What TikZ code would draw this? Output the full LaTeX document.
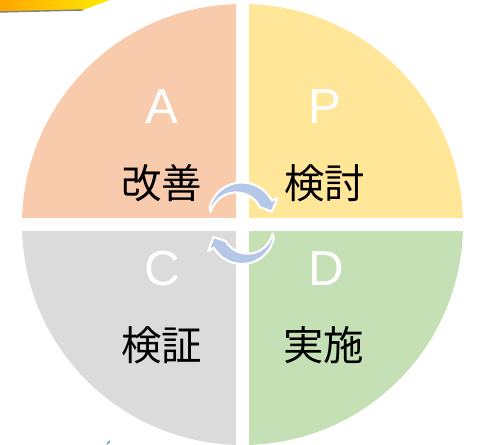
\documentclass[tikz,border=0pt]{standalone}
\usepackage{fontspec}
\setmainfont{Liberation Sans}
\newfontfamily\jpfont{Noto Sans CJK JP}
\usepackage{xcolor}
\usepackage{tikz}
\usetikzlibrary{calc}

\definecolor{actcol}{HTML}{F8CBAD}
\definecolor{plancol}{HTML}{FFE699}
\definecolor{checkcol}{HTML}{DBDBDB}
\definecolor{docol}{HTML}{C5E0B4}
\definecolor{cyclecol}{HTML}{B4C7E7}
\definecolor{tickcol}{HTML}{5B9BD5}

\begin{document}
\begin{tikzpicture}[x=0.02cm,y=0.02cm,
		letter/.style={inner sep=0pt,text=white,font=\fontsize{28}{30}\selectfont},
		word/.style={inner sep=0pt,text=black,font=\jpfont\fontsize{23}{25}\selectfont},
		cyclearrow/.style={fill=cyclecol,draw=white,line width=1.2pt,line join=round}]
		\useasboundingbox (-242.5,-220.5) rectangle (234.5,224.5);
		%
		% pencil tip in the corner
		\shade[left color=orange!70!yellow,right color=yellow!85!orange]
		(-242.5,224.5) -- (-132.5,224.5) -- (-159.5,214.5) -- (-242.5,212.5) -- cycle;
		\draw[gray,line width=0.8pt] (-242.5,212.5) -- (-159.5,214.5);
		%
		% four quarters
		\begin{scope}
		\clip (0,0) circle (220.5);
		\fill[actcol] (-230,6.5) rectangle (-6,230);
		\fill[plancol] (6.5,6.5) rectangle (230,230);
		\fill[checkcol] (-230,-230) rectangle (-6,-6.5);
		\fill[docol] (6.5,-230) rectangle (230,-6.5);
		\end{scope}
		%
		\node[letter] (A) at (-80.5,117.5) {A};
		\node[letter] (P) at (82.5,117.5) {P};
		\node[letter] (C) at (-80,-44) {C};
		\node[letter] (D) at (83.5,-44) {D};
		\node[word] (kaizen) at (-81,41) {改善};
		\node[word] (kento) at (82.5,41) {検討};
		\node[word] (kensho) at (-80.5,-121) {検証};
		\node[word] (jisshi) at (81.5,-121) {実施};
		%
		% turning arrows
		\coordinate (tc) at (-0.5,8.5);
		\coordinate (bc) at (-0.5,-7);
		\filldraw[cyclearrow] (tc) ++(165:33.5) arc[start angle=165,end angle=27,radius=33.5]
		-- ($(tc)+(27:40)$) -- ($(tc)+(8:30)$) -- ($(tc)+(27:20)$)
		arc[start angle=27,end angle=165,radius=26.5] -- cycle;
		\filldraw[cyclearrow] (bc) ++(-12:32.5) arc[start angle=-12,end angle=-150,radius=32.5]
		-- ($(bc)+(-150:39)$) -- ($(bc)+(-169:29)$) -- ($(bc)+(-150:19)$)
		arc[start angle=-150,end angle=-12,radius=25.5] -- cycle;
		%
		\draw[tickcol,line width=0.8pt] (-135.5,-219.5) -- (-132.5,-216.5);
\end{tikzpicture}
\end{document}
